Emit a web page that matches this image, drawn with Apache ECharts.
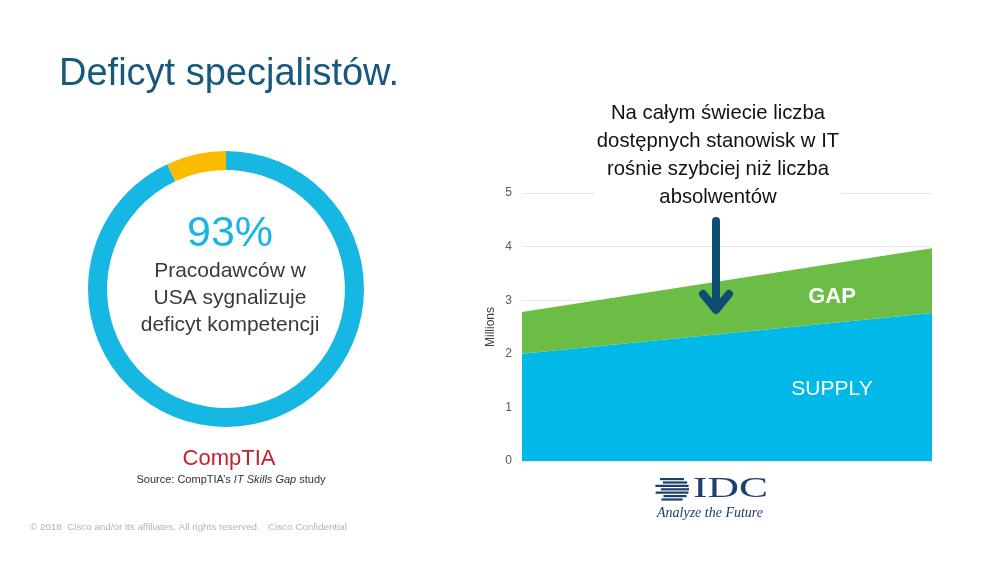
<!DOCTYPE html>
<html>
<head>
<meta charset="utf-8">
<script src="https://cdn.jsdelivr.net/npm/echarts@6/dist/echarts.min.js"></script>
<style>
html,body{margin:0;padding:0;background:#fff;}
#c{width:1000px;height:562px;}
</style>
</head>
<body>
<div id="c"></div>
<script>
// ---- data ----
const donutLabels = ['Sygnalizuje deficyt', 'Pozostali'];
const donutValues = [93, 7];
const periods = ['start', 'end'];
const supplyValues = [2.0, 2.76];
const gapValues = [0.78, 1.21];
const yTicks = [0, 1, 2, 3, 4, 5];

const sans = '"Liberation Sans", Arial, Helvetica, sans-serif';
const serif = '"Liberation Serif", "DejaVu Serif", serif';

const chart = echarts.init(document.getElementById('c'), null, {renderer: 'canvas'});

// IDC globe stripes (decorative logo)
const globe = [];
const gcx = 677, gcy = 489, gr = 12;
for (let i = 0; i < 7; i++) {
  const yy = gcy - gr + 1 + i * 3.4;
  const dy = yy + 1.2 - gcy;
  const half = Math.sqrt(Math.max(0, gr * gr - dy * dy));
  const ext = (i % 2 === 0) ? 10 : 4;
  globe.push({type: 'rect', z: 100, shape: {x: gcx - half - ext, y: yy, width: 2 * half + ext, height: 2.2},
    style: {fill: '#1d3f6b'}, silent: true});
}

const option = {
  backgroundColor: '#ffffff',
  animation: false,
  title: {
    text: 'Deficyt specjalistów.',
    left: 54, top: 51,
    textStyle: {fontFamily: sans, fontSize: 38, fontWeight: 'normal', color: '#16597f'}
  },
  grid: {left: 522, right: 68, top: 193, bottom: 101},
  xAxis: {
    type: 'category', data: periods, boundaryGap: false, show: false
  },
  yAxis: {
    type: 'value', min: yTicks[0], max: yTicks[yTicks.length - 1], interval: 1,
    name: 'Millions', nameLocation: 'middle', nameGap: 25, nameRotate: 90,
    nameTextStyle: {fontFamily: sans, fontSize: 12, color: '#404040'},
    axisLine: {show: false}, axisTick: {show: false},
    axisLabel: {fontFamily: sans, fontSize: 12, color: '#595959', margin: 10},
    splitLine: {lineStyle: {color: '#e8e8e8', width: 1}}
  },
  series: [
    {
      type: 'pie', name: 'donut', center: [226, 289], radius: [119, 138],
      startAngle: 90, clockwise: true, silent: true,
      label: {show: false}, labelLine: {show: false},
      data: [
        {name: donutLabels[0], value: donutValues[0], itemStyle: {color: '#16b7e3'}},
        {name: donutLabels[1], value: donutValues[1], itemStyle: {color: '#fbbb00'}}
      ]
    },
    {
      type: 'line', name: 'SUPPLY', stack: 'total', data: supplyValues,
      showSymbol: false, lineStyle: {width: 0}, silent: true,
      areaStyle: {color: '#00b9e8', opacity: 1}
    },
    {
      type: 'line', name: 'GAP', stack: 'total', data: gapValues,
      showSymbol: false, lineStyle: {width: 0}, silent: true,
      areaStyle: {color: '#6cbd45', opacity: 1}
    }
  ],
  graphic: [
    // donut center text
    {type: 'text', z: 100, x: 230, y: 234, style: {text: '93%', fontFamily: sans, fontSize: 43,
      fill: '#1ab5e4', textAlign: 'center', textVerticalAlign: 'middle'}},
    {type: 'text', z: 100, x: 230, y: 298, style: {text: 'Pracodawców w\nUSA sygnalizuje\ndeficyt kompetencji',
      fontFamily: sans, fontSize: 21, lineHeight: 27, fill: '#3a3a3a', textAlign: 'center', textVerticalAlign: 'middle'}},
    // CompTIA logo + source
    {type: 'text', z: 100, x: 229, y: 459, style: {text: 'CompTIA', fontFamily: sans, fontSize: 22,
      fill: '#c8202f', textAlign: 'center', textVerticalAlign: 'middle'}},
    {type: 'text', z: 100, x: 231, y: 480, style: {
      text: '{n|Source: CompTIA\u2019s }{i|IT Skills Gap}{n| study}',
      textAlign: 'center', textVerticalAlign: 'middle',
      rich: {
        n: {fontFamily: sans, fontSize: 11, fill: '#333'},
        i: {fontFamily: sans, fontSize: 11, fontStyle: 'italic', fill: '#333'}
      }}},
    // footer
    {type: 'text', z: 100, x: 30, y: 527, style: {text: '\u00a9 2018  Cisco and/or its affiliates. All rights reserved.   Cisco Confidential',
      fontFamily: sans, fontSize: 9.8, fill: '#b4b4b4', textVerticalAlign: 'middle'}},
    // annotation
    {type: 'text', z: 100, x: 718, y: 155, style: {
      text: 'Na całym świecie liczba\ndostępnych stanowisk w IT\nrośnie szybciej niż liczba\nabsolwentów',
      fontFamily: sans, fontSize: 20.3, lineHeight: 28, fill: '#111', textAlign: 'center', textVerticalAlign: 'middle',
      backgroundColor: '#ffffff', padding: [0, 2, 0, 2]}},
    // arrow
    {type: 'line', z: 101, shape: {x1: 716, y1: 221, x2: 716, y2: 309},
      style: {stroke: '#0d4c73', lineWidth: 8, lineCap: 'round'}},
    {type: 'polyline', z: 101, shape: {points: [[703, 294], [716, 310], [729, 294]]},
      style: {stroke: '#0d4c73', lineWidth: 8, lineCap: 'round', lineJoin: 'round', fill: null}},
    // area labels
    {type: 'text', z: 100, x: 832, y: 297, style: {text: 'GAP', fontFamily: sans, fontSize: 22, fontWeight: 'bold',
      fill: '#fff', textAlign: 'center', textVerticalAlign: 'middle'}},
    {type: 'text', z: 100, x: 832, y: 389, style: {text: 'SUPPLY', fontFamily: sans, fontSize: 21,
      fill: '#fff', textAlign: 'center', textVerticalAlign: 'middle'}},
    // IDC logo
    ...globe,
    {type: 'text', z: 100, x: 693, y: 489, scaleX: 1.45, style: {text: 'IDC', fontFamily: serif, fontSize: 30,
      fill: '#1d3f6b', textVerticalAlign: 'middle'}},
    {type: 'text', z: 100, x: 710, y: 513, style: {text: 'Analyze the Future', fontFamily: serif, fontSize: 14,
      fontStyle: 'italic', fill: '#1d3f6b', textAlign: 'center', textVerticalAlign: 'middle'}}
  ]
};
chart.setOption(option);
</script>
</body>
</html>
